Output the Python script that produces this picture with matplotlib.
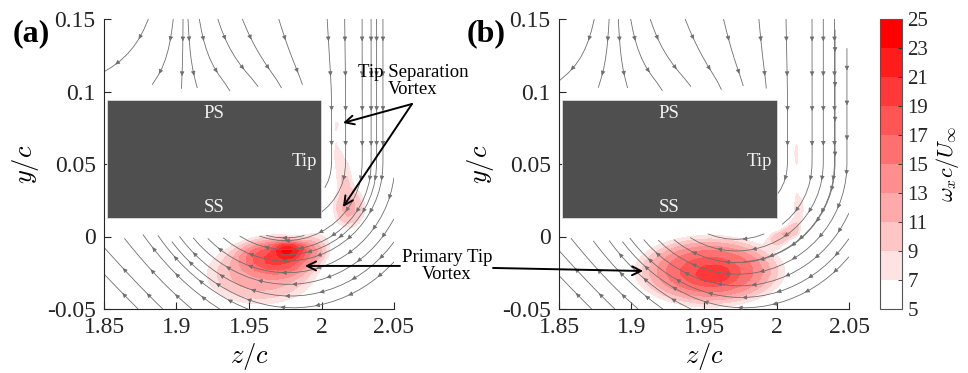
import numpy as np
import matplotlib
matplotlib.use("Agg")
import matplotlib.pyplot as plt
from matplotlib.patches import Rectangle

plt.rcParams["font.family"] = ["Liberation Serif", "DejaVu Serif"]
plt.rcParams["mathtext.fontset"] = "cm"
plt.rcParams["axes.unicode_minus"] = False

# axis ranges and ticks
z_lim = (1.85, 2.05)
y_lim = (-0.05, 0.15)
x_ticks = [1.85, 1.9, 1.95, 2.0, 2.05]
x_tick_labels = ["1.85", "1.9", "1.95", "2", "2.05"]
y_ticks = [-0.05, 0.0, 0.05, 0.1, 0.15]
y_tick_labels = ["-0.05", "0", "0.05", "0.1", "0.15"]

# vorticity contour levels
levels = [5, 7, 9, 11, 13, 15, 17, 19, 21, 23, 25]

# blade section (z from / to, y from / to)
blade_z = [1.852, 2.0]
blade_y = [0.0128, 0.094]

# vorticity patches, case (a): centre, peak and spread of each patch
blob_z_a = [1.958, 1.972, 1.978, 1.998, 2.019, 2.015, 2.011, 2.011]
blob_y_a = [-0.026, -0.012, -0.009, -0.004, 0.020, 0.046, 0.062, 0.077]
blob_w_a = [12.0, 9.0, 7.0, 6.0, 11.5, 8.0, 7.3, 8.2]
blob_sz_a = [0.036, 0.022, 0.008, 0.010, 0.011, 0.007, 0.003, 0.0035]
blob_sy_a = [0.020, 0.011, 0.005, 0.010, 0.014, 0.010, 0.008, 0.004]

# vorticity patches, case (b)
blob_z_b = [1.954, 1.957, 2.001, 2.009, 2.015, 2.013]
blob_y_b = [-0.024, -0.026, -0.001, 0.004, 0.019, 0.057]
blob_w_b = [18.0, 3.0, 8.0, 7.8, 8.3, 8.2]
blob_sz_b = [0.042, 0.010, 0.006, 0.005, 0.005, 0.003]
blob_sy_b = [0.020, 0.005, 0.005, 0.005, 0.016, 0.012]

# streamline seeds: along the top edge, under the vortex, along the bottom edge
seed_top_a = [1.880, 1.8976, 1.9045, 1.908, 1.916, 1.929, 1.946, 1.971, 2.004, 2.016, 2.028, 2.038]
seed_mid_a = [-0.001, -0.009, -0.017, -0.025, -0.033, -0.041, -0.049]
seed_bot_a = [1.853, 1.873, 1.890, 1.910, 1.929, 1.948]
seed_top_b = [1.874, 1.8845, 1.891, 1.8997, 1.9134, 1.9376, 1.9638, 1.988, 2.0066, 2.0245, 2.040]
seed_mid_b = [-0.002, -0.010, -0.018, -0.026, -0.034, -0.042, -0.049]
seed_bot_b = [1.856, 1.872, 1.888, 1.904, 1.921, 1.940]

# white -> red, one colour per band
n_band = len(levels) - 1
band_colors = [(1.0, 1 - i / (n_band - 1), 1 - i / (n_band - 1)) for i in range(n_band)]

# measurement grid (coarse) and streamline grid
zg, yg = np.meshgrid(np.linspace(*z_lim, 51), np.linspace(*y_lim, 51))
zs, ys = np.meshgrid(np.linspace(*z_lim, 121), np.linspace(*y_lim, 121))

LINE_GREY = "#6e6e6e"


def sig(t):
    return 1.0 / (1.0 + np.exp(-t))


def vorticity(bz, by, bw, sz, sy):
    w = np.zeros_like(zg)
    for z0, y0, a, s1, s2 in zip(bz, by, bw, sz, sy):
        q = np.sqrt(((zg - z0) / s1) ** 2 + ((yg - y0) / s2) ** 2)
        w += a * np.exp(-0.5 * q ** 3)
    return np.minimum(w, 24.9)


def velocity(zc, yc, z_split):
    dz, dy = zs - zc, ys - yc
    r = np.hypot(dz, dy) + 1e-6
    below = dy < 0
    # swirl round the tip: straight down outboard, circular under the tip
    us = np.where(below, dy / r, 0.0)
    vs = np.where(below, -dz / r, -1.0)
    # inboard of the vortex the cross-flow runs up and inboard
    wf = sig((r - 0.11) / 0.015) * sig((zc - 0.02 - zs) / 0.02) * below
    us = (1 - wf) * us - wf * 0.7071
    vs = (1 - wf) * vs + wf * 0.7071
    # flow arriving on the pressure side and splitting
    dzs = zs - z_split
    ut = np.where(dzs < 0, dzs / 0.03, dzs / 0.03 * np.exp(-(dzs / 0.06) ** 2))
    vt = -(ys - 0.085) / 0.03
    wt = sig((ys - 0.1) / 0.005) * sig((2.0 - zs) / 0.008)
    u = wt * ut + (1 - wt) * us
    v = wt * vt + (1 - wt) * vs
    blocked = (zs < blade_z[1]) & (ys > 0.002) & (ys < 0.1)
    return np.ma.array(u, mask=blocked), np.ma.array(v, mask=blocked)


def add_arrows(ax, lines, spacing=0.024):
    # evenly spaced heads along every streamline
    for seg in lines.get_segments():
        d = np.diff(seg, axis=0)
        seg_len = np.hypot(d[:, 0], d[:, 1])
        s = np.concatenate([[0.0], np.cumsum(seg_len)])
        for t in np.arange(spacing * 0.6, s[-1] - spacing * 0.3, spacing):
            i = min(max(np.searchsorted(s, t) - 1, 0), len(d) - 1)
            if seg_len[i] <= 0:
                continue
            step = d[i] / seg_len[i]
            p = seg[i] + step * (t - s[i])
            ax.annotate("", xy=p + step * 1e-3, xytext=p,
                        arrowprops=dict(arrowstyle="-|>", color=LINE_GREY, lw=0.5,
                                        mutation_scale=6.5, shrinkA=0, shrinkB=0))


def style_axes(ax):
    ax.set_xlim(*z_lim)
    ax.set_ylim(*y_lim)
    ax.set_xticks(x_ticks, x_tick_labels)
    ax.set_yticks(y_ticks, y_tick_labels)
    ax.spines["top"].set_visible(False)
    ax.spines["right"].set_visible(False)
    for s in ("left", "bottom"):
        ax.spines[s].set_color("#262626")
        ax.spines[s].set_linewidth(0.8)
    ax.tick_params(direction="in", length=5, width=0.8, labelsize=17,
                   colors="#262626", pad=6)
    ax.set_xlabel("$z/c$", fontsize=19, labelpad=2)
    ax.set_ylabel("$y/c$", fontsize=19, labelpad=4)


def draw_panel(ax, tag, blobs, flow, seeds):
    cf = ax.contourf(zg, yg, vorticity(*blobs), levels=levels, colors=band_colors)
    u, v = velocity(*flow)
    top, mid, bot = seeds
    starts = ([(z, 0.1485) for z in top] + [(flow[0], y) for y in mid]
              + [(z, -0.0495) for z in bot])
    sp = ax.streamplot(zs, ys, u, v, start_points=starts, broken_streamlines=False,
                       integration_direction="both", color=LINE_GREY,
                       linewidth=0.6, arrowsize=0.5, maxlength=2.0)
    # drop the single mid-line head, heads are placed evenly below
    for p in list(ax.patches):
        p.remove()
    add_arrows(ax, sp.lines)
    ax.add_patch(Rectangle((blade_z[0], blade_y[0]), blade_z[1] - blade_z[0],
                           blade_y[1] - blade_y[0], facecolor="#4f4f4f",
                           edgecolor="#dcdcdc", linewidth=0.6, zorder=5))
    ax.text(1.9257, 0.0845, "PS", color="#f2f2f2", fontsize=13.5,
            ha="center", va="center", zorder=6)
    ax.text(1.9257, 0.0197, "SS", color="#f2f2f2", fontsize=13.5,
            ha="center", va="center", zorder=6)
    ax.text(1.997, 0.052, "Tip", color="#f2f2f2", fontsize=13.5,
            ha="right", va="center", zorder=6)
    ax.text(-0.25, 0.95, tag, transform=ax.transAxes, fontsize=23,
            fontweight="bold", ha="center", va="center")
    style_axes(ax)
    return cf


fig = plt.figure(figsize=(9.68, 3.73), dpi=100)
ax_a = fig.add_axes([104 / 968, 64 / 373, 290 / 968, 290 / 373])
ax_b = fig.add_axes([559 / 968, 64 / 373, 290 / 968, 290 / 373])
cax = fig.add_axes([880 / 968, 64 / 373, 22 / 968, 290 / 373])

cf = draw_panel(ax_a, "(a)",
                (blob_z_a, blob_y_a, blob_w_a, blob_sz_a, blob_sy_a),
                (1.975, 0.05, 1.905), (seed_top_a, seed_mid_a, seed_bot_a))
draw_panel(ax_b, "(b)",
           (blob_z_b, blob_y_b, blob_w_b, blob_sz_b, blob_sy_b),
           (1.972, 0.05, 1.888), (seed_top_b, seed_mid_b, seed_bot_b))

arrow = dict(arrowstyle="->", lw=1.4, color="k", mutation_scale=16,
             shrinkA=0, shrinkB=0)
ax_a.text(2.0631, 0.1072, "Tip Separation\nVortex", fontsize=13.5,
          ha="center", va="center", linespacing=1.0, clip_on=False)
ax_a.annotate("", xy=(2.0148, 0.0783), xytext=(2.0624, 0.0914),
              arrowprops=arrow, annotation_clip=False)
ax_a.annotate("", xy=(2.0148, 0.0203), xytext=(2.0624, 0.0914),
              arrowprops=arrow, annotation_clip=False)
ax_a.text(2.0866, -0.0203, "Primary Tip\nVortex", fontsize=13.5,
          ha="center", va="center", linespacing=1.0, clip_on=False)
ax_a.annotate("", xy=(1.9886, -0.0203), xytext=(2.0541, -0.0203),
              arrowprops=arrow, annotation_clip=False)
ax_b.annotate("", xy=(1.908, -0.0238), xytext=(1.8045, -0.0217),
              arrowprops=arrow, annotation_clip=False)

cb = fig.colorbar(cf, cax=cax, ticks=levels)
cb.outline.set_edgecolor("#555555")
cb.outline.set_linewidth(0.8)
cax.tick_params(direction="in", length=3, width=0.6, labelsize=15,
                colors="#262626", pad=4)
cb.set_label(r"$\omega_x c/U_\infty$", fontsize=16, labelpad=4)

fig.savefig("out.png", dpi=100)
